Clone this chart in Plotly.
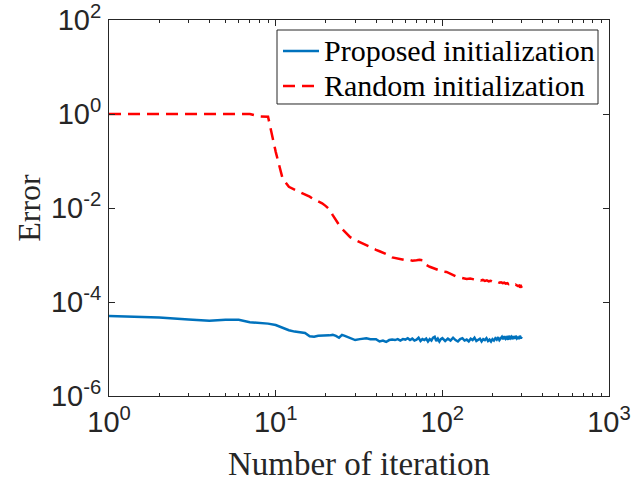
import numpy as np
import plotly.graph_objects as go

# ---- data (errors given as log10 exponents) ----
proposed_iter = [1, 2, 3, 4, 5, 6, 7, 8, 9, 10, 11, 12, 13, 14, 15, 16, 17, 18, 19, 20,
                 21, 22, 23, 24, 25, 26, 27, 28, 29, 30, 32, 34, 35, 37, 39, 40, 42, 44, 46, 48,
                 50, 52, 54, 56, 58, 60, 62, 64, 66, 68, 70, 72, 74, 76, 78, 80, 82, 84, 86, 88,
                 90, 92, 94, 96, 98, 100, 104, 108, 112, 116, 120, 124, 128, 132, 136, 140, 144,
                 148, 152, 156, 160, 164, 168, 172, 176, 180, 184, 188, 192, 196, 200, 204, 208,
                 212, 216, 220, 224, 228, 232, 236, 240, 244, 248, 252, 256, 260, 264, 268, 272,
                 276, 280, 284, 288, 292, 296, 300]
proposed_log_err = [-4.30, -4.33, -4.37, -4.40, -4.38, -4.38, -4.43, -4.44, -4.46, -4.49,
                    -4.55, -4.60, -4.63, -4.65, -4.66, -4.73, -4.74, -4.72, -4.72, -4.71,
                    -4.71, -4.70, -4.72, -4.76, -4.70, -4.72, -4.74, -4.77, -4.79, -4.81,
                    -4.79, -4.78, -4.77, -4.79, -4.78, -4.79, -4.84, -4.82, -4.85, -4.81,
                    -4.80, -4.81, -4.79, -4.82, -4.79, -4.80, -4.77, -4.81, -4.78, -4.82,
                    -4.80, -4.76, -4.83, -4.79, -4.81, -4.78, -4.84, -4.79, -4.82, -4.76,
                    -4.74, -4.83, -4.78, -4.84, -4.79, -4.77, -4.83, -4.78, -4.82, -4.76,
                    -4.81, -4.84, -4.79, -4.77, -4.82, -4.80, -4.84, -4.78, -4.81, -4.76,
                    -4.83, -4.80, -4.78, -4.84, -4.79, -4.81, -4.77, -4.83, -4.80, -4.84,
                    -4.79, -4.82, -4.77, -4.80, -4.75, -4.81, -4.77, -4.74, -4.79, -4.73,
                    -4.78, -4.75, -4.80, -4.72, -4.77, -4.74, -4.79, -4.73, -4.78, -4.72,
                    -4.77, -4.74, -4.79, -4.72, -4.77, -4.74]

random_iter = [1, 2, 3, 4, 5, 6, 7, 8, 9, 10, 11, 12, 13, 14, 15, 16, 17, 18, 19, 20,
               21, 22, 23, 24, 25, 26, 27, 28, 30, 32, 34, 36, 38, 40, 42, 45, 48, 50, 53,
               56, 60, 63, 66, 70, 73, 76, 78, 79, 80, 84, 88, 92, 96, 100, 106, 110, 115,
               120, 125, 130, 135, 140, 147, 155, 160, 165, 170, 175, 180, 185, 190, 195,
               200, 205, 210, 215, 220, 225, 230, 235, 240, 245, 250, 255, 260, 265, 270,
               275, 280, 285, 290, 292, 296, 300]
random_log_err = [0.00, 0.00, 0.00, 0.00, 0.00, 0.01, 0.00, -0.05, -0.06, -0.80,
                  -1.37, -1.55, -1.61, -1.65, -1.70, -1.76, -1.82, -1.86, -1.90, -1.96,
                  -2.03, -2.15, -2.27, -2.36, -2.44, -2.51, -2.57, -2.62, -2.68, -2.73,
                  -2.78, -2.82, -2.86, -2.89, -2.92, -2.96, -3.01, -3.05, -3.07, -3.09,
                  -3.11, -3.10, -3.12, -3.11, -3.10, -3.11, -3.13, -3.19, -3.21, -3.25,
                  -3.28, -3.31, -3.33, -3.35, -3.36, -3.39, -3.42, -3.45, -3.47, -3.48,
                  -3.50, -3.51, -3.50, -3.52, -3.53, -3.52, -3.54, -3.53, -3.55, -3.54,
                  -3.56, -3.55, -3.57, -3.56, -3.58, -3.57, -3.59, -3.58, -3.60, -3.59,
                  -3.61, -3.60, -3.62, -3.61, -3.63, -3.62, -3.64, -3.63, -3.65, -3.66,
                  -3.65, -3.67, -3.66, -3.70]

series_names = ["Proposed initialization", "Random initialization"]
series_colors = ["#0072BD", "#FF0000"]
series_dashes = ["solid", "12px,7px"]

x_tick_vals = [1, 10, 100, 1000]
x_tick_text = ["10<sup>0</sup>", "10<sup>1</sup>", "10<sup>2</sup>", "10<sup>3</sup>"]
x_minor_vals = [2, 3, 4, 5, 6, 7, 8, 9, 20, 30, 40, 50, 60, 70, 80, 90,
                200, 300, 400, 500, 600, 700, 800, 900]
y_tick_vals = [1e-6, 1e-4, 1e-2, 1e0, 1e2]
y_tick_text = ["10<sup>-6</sup>", "10<sup>-4</sup>", "10<sup>-2</sup>", "10<sup>0</sup>", "10<sup>2</sup>"]

proposed_err = np.power(10.0, proposed_log_err)
random_err = np.power(10.0, random_log_err)

AX = "#262626"
SERIF = "Liberation Serif, Times New Roman, serif"

fig = go.Figure()
fig.add_trace(go.Scatter(x=proposed_iter, y=proposed_err, mode="lines",
                         name=series_names[0], showlegend=False,
                         line=dict(color=series_colors[0], width=2.5, dash=series_dashes[0])))
fig.add_trace(go.Scatter(x=random_iter, y=random_err, mode="lines",
                         name=series_names[1], showlegend=False,
                         line=dict(color=series_colors[1], width=2.5, dash=series_dashes[1])))

# legend box drawn in paper coordinates (plot area fractions)
shapes = [dict(type="rect", xref="paper", yref="paper", x0=0.336, x1=0.978, y0=0.7766, y1=0.9734,
               line=dict(color=AX, width=1), fillcolor="white", layer="above")]
annotations = []
row_y = [0.9176, 0.8245]
for name, col, dash, ry in zip(series_names, series_colors, series_dashes, row_y):
    shapes.append(dict(type="line", xref="paper", yref="paper", x0=0.348, x1=0.420, y0=ry, y1=ry,
                       line=dict(color=col, width=2.5, dash=dash), layer="above"))
    annotations.append(dict(xref="paper", yref="paper", x=0.426, y=ry, xanchor="left", yanchor="middle",
                            text=name, showarrow=False,
                            font=dict(family=SERIF, size=30, color="black")))

tickfont = dict(family="Liberation Sans, Arial, sans-serif", size=29, color=AX)

fig.update_layout(
    width=632, height=483, autosize=False,
    margin=dict(l=109, r=23, t=20, b=87),
    paper_bgcolor="white", plot_bgcolor="white",
    showlegend=False,
    shapes=shapes, annotations=annotations,
)
fig.update_xaxes(type="log", range=[-0.0001, 3.0001], automargin=False,
                 tickmode="array", tickvals=x_tick_vals, ticktext=x_tick_text,
                 ticks="inside", ticklen=6, tickcolor=AX, tickwidth=1,
                 minor=dict(tickmode="array", tickvals=x_minor_vals, ticks="inside",
                            ticklen=3, tickcolor=AX, tickwidth=1, showgrid=False),
                 showline=True, linecolor=AX, linewidth=1, mirror="ticks",
                 showgrid=False, zeroline=False, tickfont=tickfont,
                 ticklabeloverflow="allow",
                 title=dict(text="Number of iteration",
                            font=dict(family=SERIF, size=33, color=AX), standoff=15))
fig.update_yaxes(type="log", range=[-6.0001, 2.0001], automargin=False,
                 tickmode="array", tickvals=y_tick_vals, ticktext=y_tick_text,
                 ticks="inside", ticklen=6, tickcolor=AX, tickwidth=1,
                 showline=True, linecolor=AX, linewidth=1, mirror="ticks",
                 showgrid=False, zeroline=False, tickfont=tickfont,
                 ticklabelstandoff=1, ticklabeloverflow="allow",
                 title=dict(text="Error", font=dict(family=SERIF, size=32, color=AX), standoff=0))

fig.write_html("out.html", config={"displayModeBar": False},
               post_script="document.body.style.margin='0';document.body.style.padding='0';")
